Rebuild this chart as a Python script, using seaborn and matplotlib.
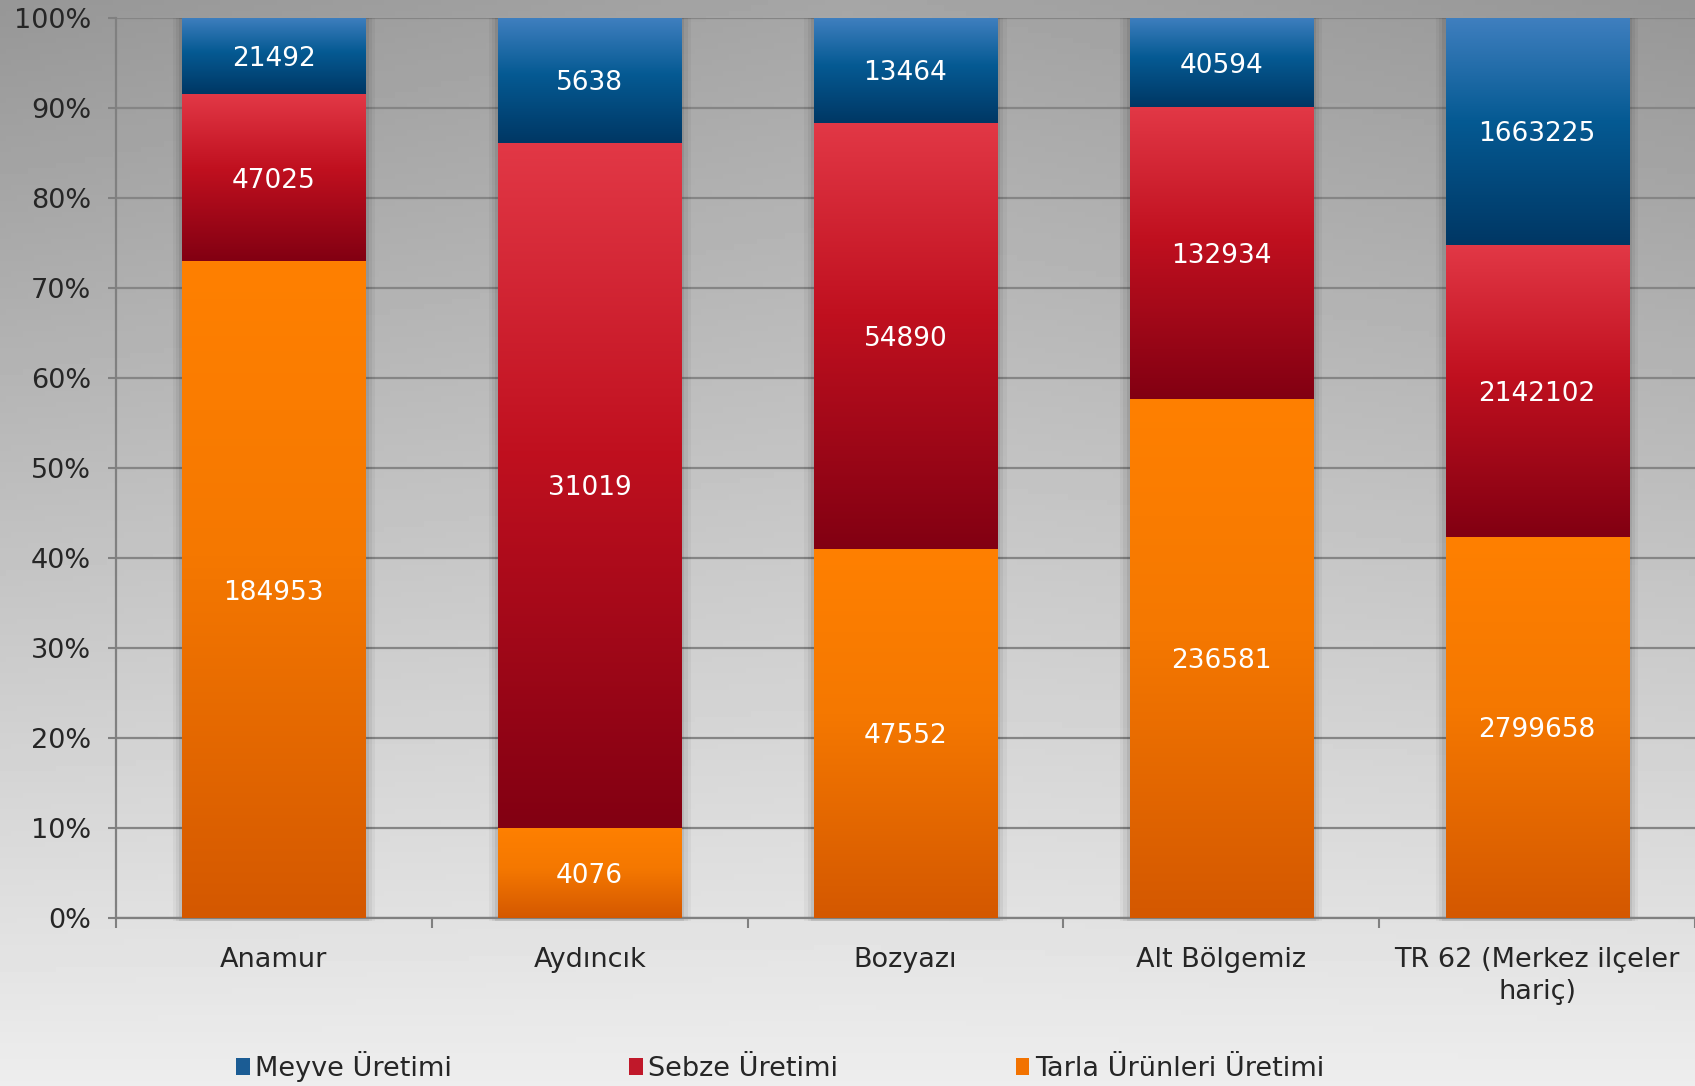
import numpy as np
import pandas as pd
import seaborn as sns
import matplotlib.pyplot as plt
from matplotlib.patches import Patch
from matplotlib.colors import LinearSegmentedColormap

# data
regions = ['Anamur', 'Aydıncık', 'Bozyazı', 'Alt Bölgemiz', 'TR 62 (Merkez ilçeler\nhariç)']
meyve = [21492, 5638, 13464, 40594, 1663225]
sebze = [47025, 31019, 54890, 132934, 2142102]
tarla = [184953, 4076, 47552, 236581, 2799658]
series_names = ['Meyve Üretimi', 'Sebze Üretimi', 'Tarla Ürünleri Üretimi']

df = pd.DataFrame({'Bölge': regions, 'Meyve': meyve, 'Sebze': sebze, 'Tarla': tarla})
total = df[['Meyve', 'Sebze', 'Tarla']].sum(axis=1)
df['p_tarla'] = df['Tarla'] / total * 100
df['p_sebze'] = df['Sebze'] / total * 100
df['p_meyve'] = df['Meyve'] / total * 100

# gradient (top, middle, bottom) for each series
grads = {
    'Meyve': ('#3f7fbf', '#055a93', '#003764'),
    'Sebze': ('#e23846', '#c0101f', '#820012'),
    'Tarla': ('#ff8000', '#f57800', '#d45800'),
}
legend_cols = {'Meyve': '#1b5c94', 'Sebze': '#c0182a', 'Tarla': '#f27200'}

sns.set_style('ticks')
plt.rcParams['font.family'] = ['DejaVu Sans']

fig = plt.figure(figsize=(16.95, 10.86), dpi=100)

# figure background gradient
bg = fig.add_axes([0, 0, 1, 1], zorder=-10)
yy, xx = np.mgrid[0:1:200j, 0:1:300j]
val = 0.65 + 0.28 * yy - 0.06 * np.abs(xx - 0.5) * 2 * (1 - yy)
bg.imshow(val, cmap='gray', vmin=0, vmax=1, aspect='auto', extent=[0, 1, 0, 1], origin='upper')
bg.axis('off')

ax = fig.add_axes([0.0684, 0.1547, 0.9316, 0.8287])
ax.set_facecolor('none')

layers = [
    ('Meyve', df['p_tarla'] + df['p_sebze'], df['p_meyve']),
    ('Sebze', df['p_tarla'], df['p_sebze']),
    ('Tarla', df['p_tarla'] * 0, df['p_tarla']),
]

first = True
for key, bottom, height in layers:
    n_before = len(ax.patches)
    sns.barplot(x=df['Bölge'], y=bottom + height, color=grads[key][0], width=0.58,
                ax=ax, zorder=3, linewidth=0)
    new = ax.patches[n_before:]
    top, mid, bot = grads[key]
    cmap = LinearSegmentedColormap.from_list(key, [(0, bot), (0.55, mid), (1, top)])
    for rect, b, h in zip(new, bottom, height):
        x0 = rect.get_x()
        w = rect.get_width()
        if first:
            # soft shadow behind the whole bar
            for k, a in [(0.03, 0.04), (0.02, 0.05), (0.01, 0.07)]:
                ax.add_patch(plt.Rectangle((x0 - k, -0.3), w + 2 * k, 100.3,
                                           color='black', alpha=a, lw=0, zorder=2,
                                           clip_on=False))
        rect.set_y(b)
        rect.set_height(h)
        grad = np.linspace(0, 1, 256).reshape(-1, 1)
        im = ax.imshow(grad, cmap=cmap, aspect='auto', origin='lower',
                       extent=[x0, x0 + w, b, b + h], zorder=4)
        im.set_clip_path(rect)
    first = False

# value labels
for i in range(len(regions)):
    segs = [(df['p_tarla'][i] / 2, tarla[i]),
            (df['p_tarla'][i] + df['p_sebze'][i] / 2, sebze[i]),
            (df['p_tarla'][i] + df['p_sebze'][i] + df['p_meyve'][i] / 2, meyve[i])]
    for yc, v in segs:
        ax.text(i, yc, str(v), ha='center', va='center_baseline', color='white',
                fontsize=19, zorder=6)

ax.set_xlim(-0.5, 4.5)
ax.set_ylim(0, 100)
ax.set_yticks(np.arange(0, 101, 10))
ax.set_yticklabels([f'{t}%' for t in range(0, 101, 10)], fontsize=19.5)
ax.set_xticks(range(len(regions)))
ax.set_xticklabels(regions, fontsize=19.5, linespacing=1.3)
ax.set_xticks(np.arange(-0.5, 5, 1), minor=True)
ax.tick_params(axis='x', which='major', length=0, pad=21, bottom=True)
ax.tick_params(axis='x', which='minor', length=7, width=1.5, color='#808080',
               direction='out', bottom=True)
ax.tick_params(axis='y', length=6, width=1.5, color='#808080', direction='out', pad=12, left=True)
ax.set_xlabel('')
ax.set_ylabel('')
ax.grid(axis='y', color='#858585', lw=1.6, zorder=0)
ax.set_axisbelow(True)
for s in ['top', 'right']:
    ax.spines[s].set_visible(False)
for s in ['left', 'bottom']:
    ax.spines[s].set_color('#808080')
    ax.spines[s].set_linewidth(1.6)

handles = [Patch(facecolor=legend_cols[k], edgecolor='none') for k in ['Meyve', 'Sebze', 'Tarla']]
fig.legend(handles, series_names, loc='lower left', bbox_to_anchor=(0.125, -0.019), ncol=3,
           frameon=False, fontsize=19.5, handlelength=0.5, handleheight=0.6,
           handletextpad=0.2, columnspacing=6.55)

fig.savefig('out.png', dpi=100)
